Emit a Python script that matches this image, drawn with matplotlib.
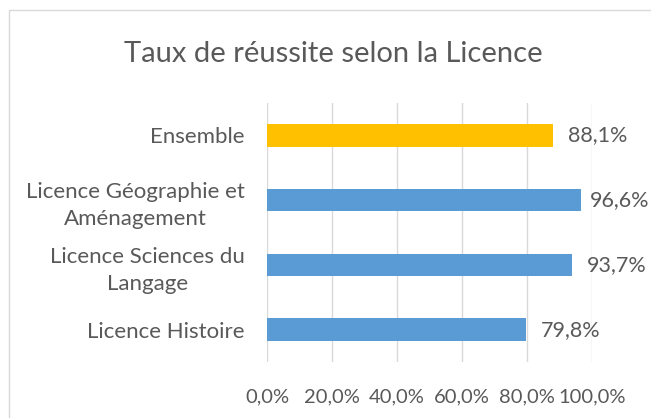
import matplotlib.pyplot as plt
from matplotlib.patches import Rectangle

categories = ['Licence Histoire', 'Licence Sciences du\nLangage',
              'Licence Géographie et\nAménagement', 'Ensemble']
values = [79.8, 93.7, 96.6, 88.1]
colors = ['#5B9BD5', '#5B9BD5', '#5B9BD5', '#FFC000']
xticks = [0, 20, 40, 60, 80, 100]

plt.rcParams['font.family'] = ['Lato', 'DejaVu Sans']
text_color = '#595959'

fig = plt.figure(figsize=(6.51, 4.18), dpi=100)
fig.patches.append(Rectangle((9 / 651, -0.1), 2, 1.1 - 10 / 418, transform=fig.transFigure,
                             fill=False, edgecolor='#D9D9D9', linewidth=1))
ax = fig.add_axes([267 / 651, 1 - 362 / 418, (592 - 267) / 651, 259 / 418])

ypos = range(len(categories))
ax.barh(ypos, values, height=0.35, color=colors, zorder=3)
for y, v in zip(ypos, values):
    # labels pushed left when they would leave the chart, like Excel does
    ax.text(min(v + 4.6, 99.2), y, f'{v:.1f}%'.replace('.', ','), va='center', ha='left',
            fontsize=15.5, color=text_color)

ax.set_xlim(0, 100)
ax.set_ylim(-0.5, 3.5)
ax.set_xticks(xticks)
ax.set_xticklabels([f'{t:.1f}%'.replace('.', ',') for t in xticks], fontsize=14.5, color=text_color)
ax.set_yticks(list(ypos))
ax.set_yticklabels(categories, fontsize=16, color=text_color, multialignment='center',
                   linespacing=1.45)
ax.tick_params(axis='both', length=0)
ax.tick_params(axis='x', pad=19)
ax.tick_params(axis='y', pad=16)
ax.grid(axis='x', color='#D9D9D9', linewidth=1, zorder=0)
for s in ax.spines.values():
    s.set_visible(False)

fig.text(333 / 651, 1 - 54 / 418, 'Taux de réussite selon la Licence', ha='center', va='center',
         fontsize=21, color=text_color)

fig.savefig('out.png', dpi=100)
